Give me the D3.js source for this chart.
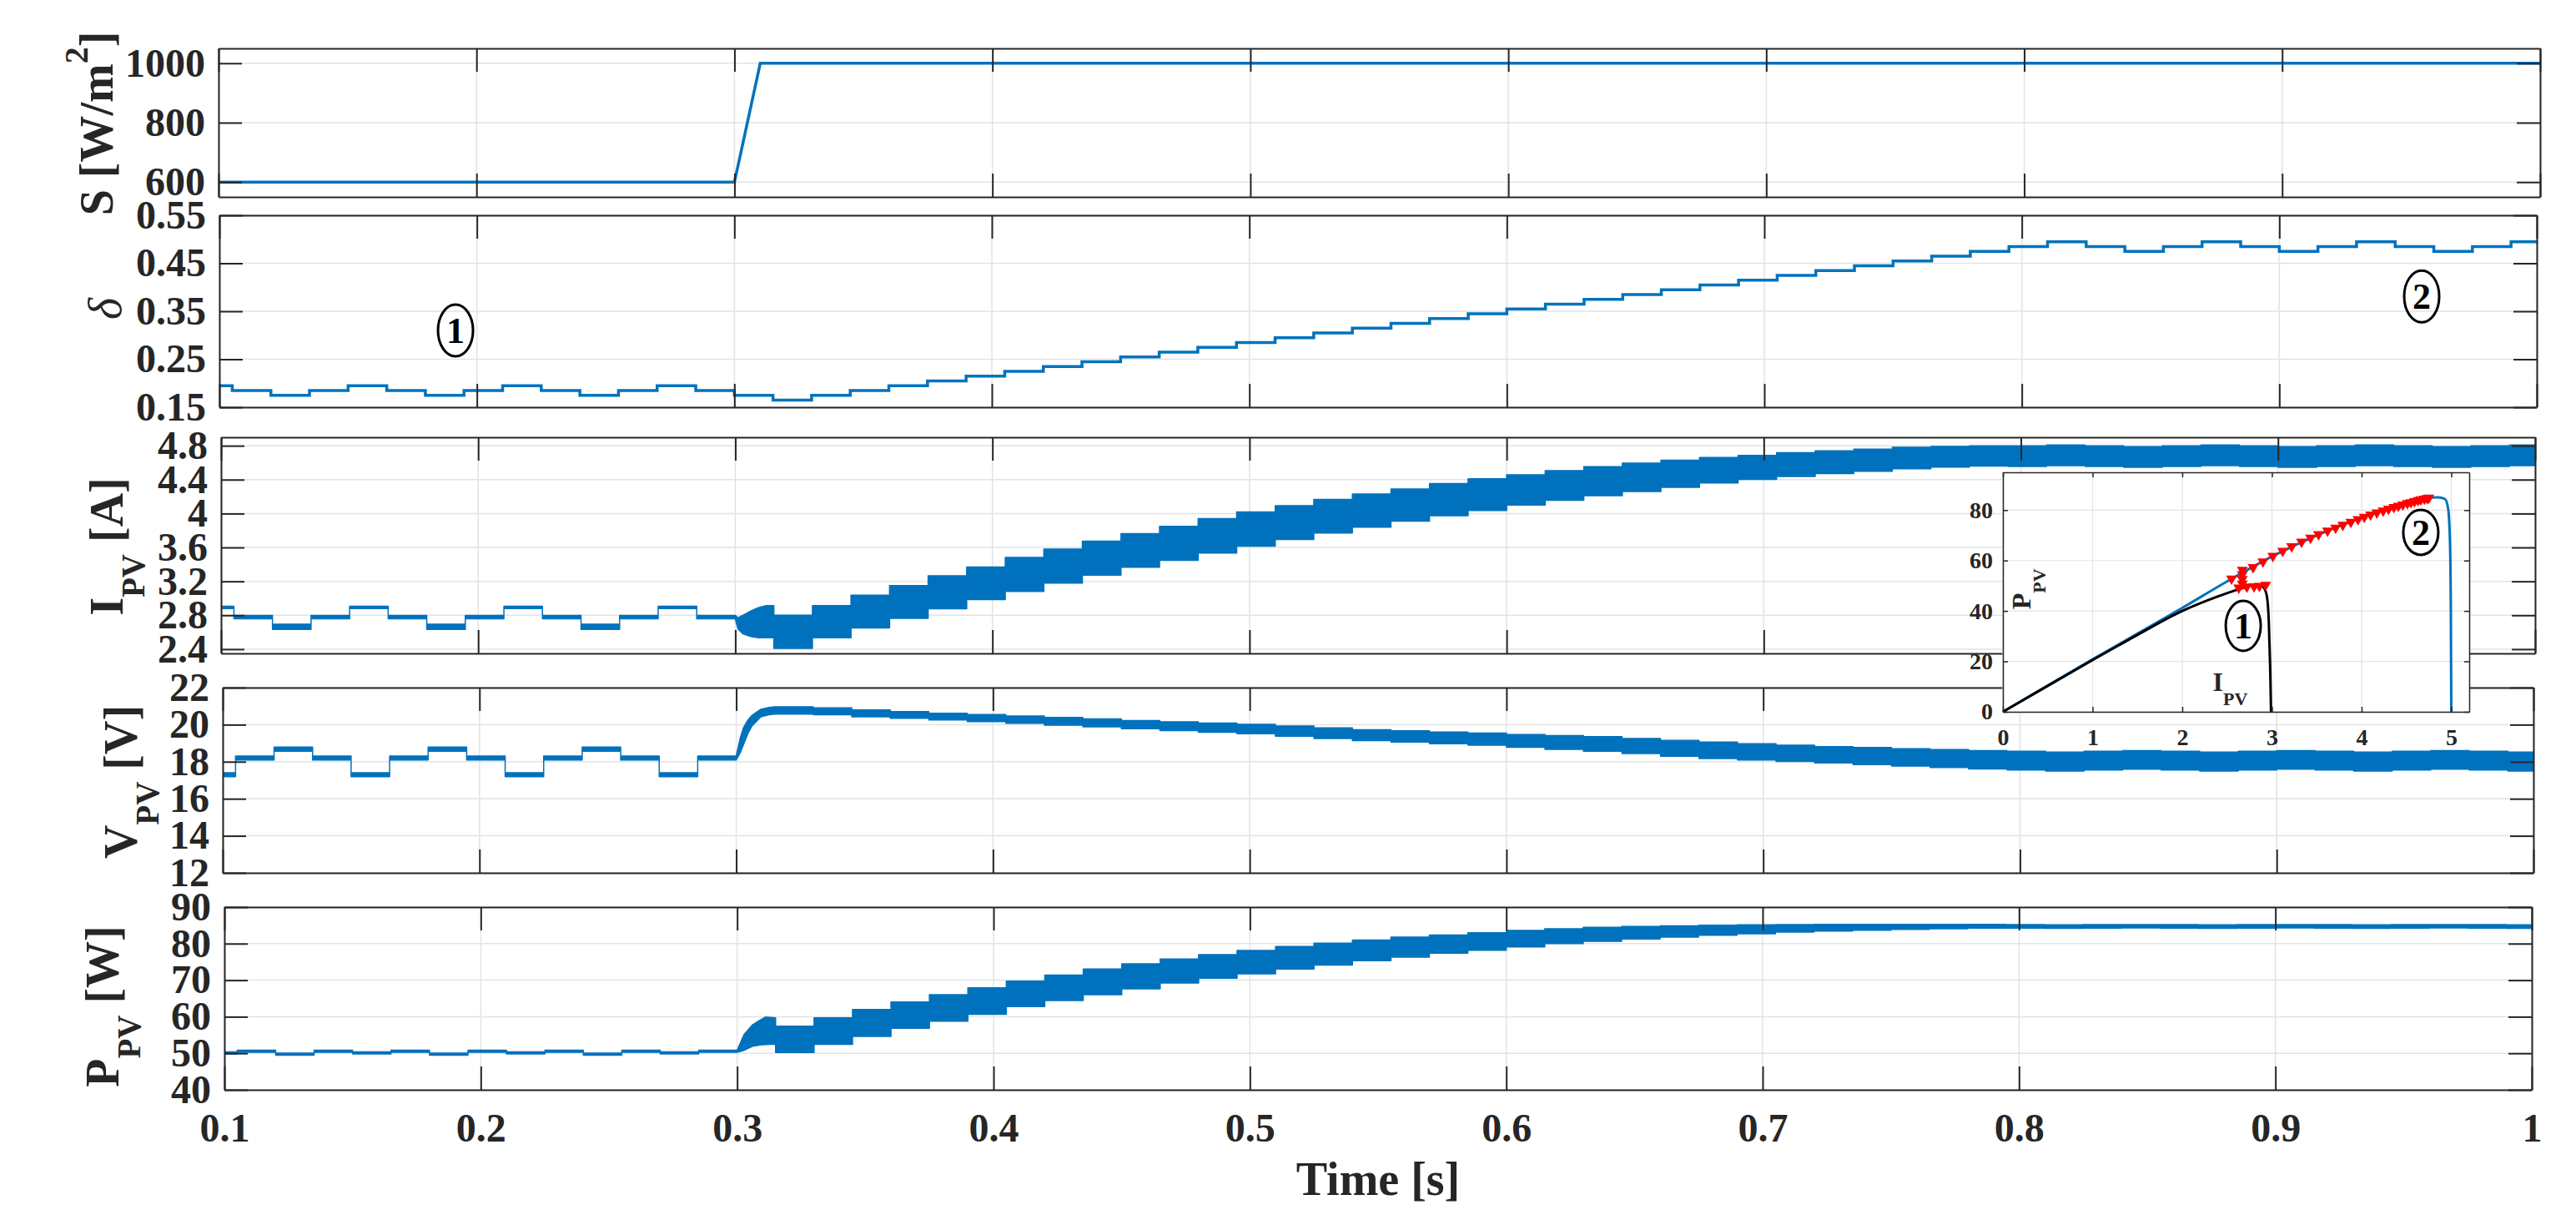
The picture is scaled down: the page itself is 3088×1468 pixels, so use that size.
<!DOCTYPE html>
<html>
<head>
<meta charset="utf-8">
<script src="https://cdn.jsdelivr.net/npm/d3@7"></script>
<style>
  body { margin: 0; background: #fff; }
  svg text { font-family: 'Liberation Serif', 'Times New Roman', Times, serif; fill: #262626; }
</style>
</head>
<body>
<svg id="chart" width="3088" height="1468"></svg>
<script>
// ---------- data ----------

// time axis
var timeTicks = [0.1, 0.2, 0.3, 0.4, 0.5, 0.6, 0.7, 0.8, 0.9, 1];
var timeTickLabels = ['0.1', '0.2', '0.3', '0.4', '0.5', '0.6', '0.7', '0.8', '0.9', '1'];

// irradiance step
var sTime = [0.1, 0.3, 0.31, 1];
var sValue = [600, 600, 1000, 1000];
var sTicks = [600, 800, 1000];
var sTickLabels = ['600', '800', '1000'];

// MPPT update instants (first interval starts at 0.1, then every 15 ms)
var stepStart = [0.1].concat(d3.range(60).map(function (k) { return +(0.105 + k * 0.015).toFixed(3); }));
var tEnd = 1;

// duty cycle, one value per MPPT interval
var duty = [0.195, 0.185, 0.175, 0.185, 0.195, 0.185, 0.175, 0.185, 0.195, 0.185, 0.175, 0.185, 0.195, 0.185, 0.175, 0.165,
  0.175, 0.185, 0.195, 0.205, 0.215, 0.225, 0.235, 0.245, 0.255, 0.265, 0.275, 0.285, 0.295, 0.305, 0.315, 0.325,
  0.335, 0.345, 0.355, 0.365, 0.375, 0.385, 0.395, 0.405, 0.415, 0.425, 0.435, 0.445, 0.455, 0.465, 0.475,
  0.485, 0.495, 0.485, 0.475, 0.485, 0.495, 0.485, 0.475, 0.485, 0.495, 0.485, 0.475, 0.485, 0.495];
var dutyTicks = [0.15, 0.25, 0.35, 0.45, 0.55];
var dutyTickLabels = ['0.15', '0.25', '0.35', '0.45', '0.55'];

// PV current ripple band (min / max per interval), null = transient listed below
var iLow = [2.879, 2.758, 2.633, 2.758, 2.879, 2.758, 2.633, 2.758, 2.879, 2.758, 2.633, 2.758, 2.879, 2.758, null,
  2.41, 2.535, 2.65, 2.763, 2.876, 2.984, 3.082, 3.18, 3.272, 3.367, 3.448, 3.535, 3.616, 3.693, 3.77, 3.84,
  3.911, 3.974, 4.037, 4.1, 4.156, 4.212, 4.261, 4.31, 4.36, 4.402, 4.437, 4.472, 4.5, 4.529, 4.549, 4.56,
  4.555, 4.565, 4.555, 4.545, 4.555, 4.565, 4.555, 4.545, 4.555, 4.565, 4.555, 4.545, 4.555, 4.565];
var iHigh = [2.907, 2.799, 2.694, 2.799, 2.907, 2.799, 2.694, 2.799, 2.907, 2.799, 2.694, 2.799, 2.907, 2.799, null,
  2.80, 2.914, 3.037, 3.149, 3.265, 3.37, 3.482, 3.58, 3.675, 3.763, 3.85, 3.939, 4.02, 4.093, 4.167, 4.23,
  4.29, 4.353, 4.409, 4.458, 4.507, 4.553, 4.595, 4.63, 4.661, 4.686, 4.718, 4.739, 4.76, 4.781, 4.792, 4.80,
  4.80, 4.81, 4.80, 4.79, 4.80, 4.81, 4.80, 4.79, 4.80, 4.81, 4.80, 4.79, 4.80, 4.81];
var iJumpTime = [0.3, 0.301, 0.303, 0.306, 0.309, 0.312, 0.315];
var iJumpLow = [2.758, 2.64, 2.58, 2.55, 2.535, 2.535, 2.535];
var iJumpHigh = [2.799, 2.77, 2.80, 2.85, 2.89, 2.914, 2.914];
var iTicks = [2.4, 2.8, 3.2, 3.6, 4, 4.4, 4.8];
var iTickLabels = ['2.4', '2.8', '3.2', '3.6', '4', '4.4', '4.8'];

// PV voltage ripple band
var vLow = [17.19, 18.09, 18.57, 18.09, 17.19, 18.09, 18.57, 18.09, 17.19, 18.09, 18.57, 18.09, 17.19, 18.09, null,
  20.57, 20.54, 20.42, 20.34, 20.25, 20.17, 20.07, 19.97, 19.88, 19.78, 19.68, 19.59, 19.51, 19.38, 19.25, 19.14,
  19.06, 18.97, 18.89, 18.78, 18.67, 18.57, 18.44, 18.30, 18.17, 18.09, 18.01, 17.93, 17.85, 17.77, 17.69, 17.61,
  17.55, 17.50, 17.55, 17.60, 17.55, 17.50, 17.55, 17.60, 17.55, 17.50, 17.55, 17.60, 17.55, 17.50];
var vHigh = [17.41, 18.31, 18.79, 18.31, 17.41, 18.31, 18.79, 18.31, 17.41, 18.31, 18.79, 18.31, 17.41, 18.31, null,
  20.96, 20.91, 20.80, 20.70, 20.62, 20.55, 20.47, 20.39, 20.31, 20.22, 20.15, 20.09, 20.02, 19.93, 19.83, 19.73,
  19.67, 19.60, 19.54, 19.47, 19.41, 19.35, 19.25, 19.15, 19.06, 18.97, 18.89, 18.81, 18.77, 18.70, 18.65, 18.60,
  18.56, 18.52, 18.56, 18.60, 18.56, 18.52, 18.56, 18.60, 18.56, 18.52, 18.56, 18.60, 18.56, 18.52];
var vJumpTime = [0.3, 0.3016, 0.3029, 0.3046, 0.3062, 0.3096, 0.3128, 0.315];
var vJumpLow = [18.09, 18.5, 18.95, 19.54, 19.94, 20.42, 20.54, 20.57];
var vJumpHigh = [18.31, 19.30, 19.86, 20.26, 20.51, 20.83, 20.93, 20.96];
var vTicks = [12, 14, 16, 18, 20, 22];
var vTickLabels = ['12', '14', '16', '18', '20', '22'];

// PV power ripple band
var pLow = [49.83, 50.25, 49.48, 50.25, 49.83, 50.25, 49.48, 50.25, 49.83, 50.25, 49.48, 50.25, 49.83, 50.25, null,
  50.19, 52.47, 54.60, 56.81, 58.79, 60.69, 62.75, 64.42, 66.02, 67.62, 69.22, 70.51, 71.73, 73.02, 74.16, 75.31,
  76.30, 77.36, 78.20, 79.11, 80.02, 80.63, 81.24, 81.78, 82.31, 82.69, 83.14, 83.45, 83.68, 83.90, 84.06, 84.21,
  84.25, 84.2, 84.25, 84.3, 84.25, 84.2, 84.25, 84.3, 84.25, 84.2, 84.25, 84.3, 84.25, 84.2];
var pHigh = [50.40, 50.82, 50.06, 50.82, 50.40, 50.82, 50.06, 50.82, 50.40, 50.82, 50.06, 50.82, 50.40, 50.82, null,
  57.42, 59.70, 61.99, 64.04, 66.02, 67.92, 69.75, 71.42, 73.02, 74.47, 75.76, 76.98, 78.12, 79.19, 80.10, 81.01,
  81.78, 82.38, 82.99, 83.60, 84.06, 84.44, 84.67, 84.89, 85.05, 85.12, 85.20, 85.25, 85.25, 85.25, 85.25, 85.25,
  85.2, 85.15, 85.2, 85.2, 85.2, 85.15, 85.2, 85.2, 85.2, 85.15, 85.2, 85.2, 85.2, 85.15];
var pJumpTime = [0.3, 0.3027, 0.306, 0.3095, 0.311, 0.315];
var pJumpLow = [50.25, 50.8, 51.9, 52.3, 52.4, 52.5];
var pJumpHigh = [50.82, 55.1, 57.8, 59.3, 59.9, 59.7];
var pTicks = [40, 50, 60, 70, 80, 90];
var pTickLabels = ['40', '50', '60', '70', '80', '90'];

// inset: P-I curves and MPPT operating points
var pv600Current = [0, 0.5, 1, 1.5, 2, 2.4, 2.6, 2.75, 2.83, 2.9, 2.94, 2.965, 2.98, 2.99];
var pv600Power = [0, 10.3, 20.5, 30.5, 40.0, 45.8, 48.3, 50.0, 50.6, 49.6, 46.5, 36, 18, 0];
var pv1000Current = [0, 0.5, 1, 1.5, 2, 2.5, 3, 3.5, 4, 4.4, 4.7, 4.85, 4.93, 4.965, 4.985, 4.995, 5.0];
var pv1000Power = [0, 10.4, 20.8, 31.0, 41.2, 51.7, 61.6, 70.0, 77.0, 82.0, 84.8, 85.1, 84.4, 80.5, 68, 40, 0];
var mppCurrent = [2.67, 2.67, 2.67, 2.67, 2.63, 2.72, 2.80, 2.86, 2.93,
  2.55, 2.79, 2.90, 3.01, 3.12, 3.22, 3.33, 3.43, 3.52, 3.62, 3.71, 3.79, 3.88, 3.96, 4.03, 4.10,
  4.17, 4.24, 4.30, 4.36, 4.41, 4.46, 4.51, 4.55, 4.59, 4.63, 4.66, 4.70, 4.73, 4.75];
var mppPower = [56.3, 54.5, 52.6, 50.8, 49.2, 49.6, 49.7, 49.9, 50.3,
  52.8, 57.3, 59.6, 61.8, 63.8, 65.6, 67.4, 69.0, 70.4, 71.8, 73.0, 74.1, 75.3, 76.4, 77.3, 78.2,
  79.0, 79.8, 80.5, 81.2, 81.7, 82.2, 82.7, 83.1, 83.5, 83.9, 84.2, 84.5, 84.7, 84.9];
var insetXTicks = [0, 1, 2, 3, 4, 5];
var insetYTicks = [0, 20, 40, 60, 80];

// circled operating-point markers
var dutyMarkTime = [0.1917, 0.9553];
var dutyMarkValue = [0.310, 0.381];
var dutyMarkText = ['1', '2'];
var insetMarkCurrent = [2.68, 4.66];
var insetMarkPower = [34.1, 71.2];
var insetMarkText = ['1', '2'];

// ---------- drawing ----------

var svg = d3.select('#chart');
var blue = '#0072bd';
var axisColor = '#262626';
var gridColor = '#e3e3e3';
var tickLen = 28;

var defs = svg.append('defs');

// build a step-wise ripple band from per-interval min/max values
function bandPoints(low, high, jt, jl, jh) {
  var pts = [];
  stepStart.forEach(function (t0, i) {
    var t1 = i + 1 < stepStart.length ? stepStart[i + 1] : tEnd;
    if (low[i] === null) {
      jt.forEach(function (t, k) { pts.push({ t: t, lo: jl[k], hi: jh[k] }); });
    } else {
      pts.push({ t: t0, lo: low[i], hi: high[i] });
      pts.push({ t: t1, lo: low[i], hi: high[i] });
    }
  });
  return pts;
}

function makePanel(id, box, yDomain, yTicks) {
  var x = d3.scaleLinear().domain([0.1, 1]).range([box.left, box.right]);
  var y = d3.scaleLinear().domain(yDomain).range([box.bottom, box.top]);
  var g = svg.append('g').attr('class', 'panel-' + id);

  g.append('g').selectAll('line')
    .data(timeTicks).enter().append('line')
    .attr('x1', d => x(d)).attr('x2', d => x(d))
    .attr('y1', box.top).attr('y2', box.bottom)
    .attr('stroke', gridColor).attr('stroke-width', 1.5);
  g.append('g').selectAll('line')
    .data(yTicks).enter().append('line')
    .attr('x1', box.left).attr('x2', box.right)
    .attr('y1', d => y(d)).attr('y2', d => y(d))
    .attr('stroke', gridColor).attr('stroke-width', 1.5);

  defs.append('clipPath').attr('id', 'clip-' + id)
    .append('rect')
    .attr('x', box.left).attr('y', box.top)
    .attr('width', box.right - box.left).attr('height', box.bottom - box.top);

  var plot = g.append('g').attr('clip-path', 'url(#clip-' + id + ')');
  return { g: g, plot: plot, x: x, y: y, box: box };
}

function styleAxis(sel, fontSize) {
  sel.attr('color', axisColor).attr('font-family', null).attr('font-size', null);
  sel.selectAll('line').attr('stroke-width', 2);
  sel.select('.domain').attr('stroke-width', 2);
  sel.selectAll('text')
    .style('font-size', fontSize + 'px')
    .style('font-weight', 'bold');
}

function finishPanel(p, yTicks, yTickLabels, showTime) {
  var b = p.box;
  var left = d3.axisLeft(p.y).tickValues(yTicks)
    .tickFormat((d, i) => yTickLabels[i])
    .tickSizeInner(-tickLen).tickSizeOuter(0).tickPadding(16);
  var right = d3.axisRight(p.y).tickValues(yTicks).tickFormat('')
    .tickSizeInner(-tickLen).tickSizeOuter(0);
  var top = d3.axisTop(p.x).tickValues(timeTicks).tickFormat('')
    .tickSizeInner(-tickLen).tickSizeOuter(0);
  var bottom = d3.axisBottom(p.x).tickValues(timeTicks)
    .tickFormat((d, i) => showTime ? timeTickLabels[i] : '')
    .tickSizeInner(-tickLen).tickSizeOuter(0).tickPadding(28);

  styleAxis(p.g.append('g').attr('transform', `translate(${b.left},0)`).call(left), 48);
  styleAxis(p.g.append('g').attr('transform', `translate(${b.right},0)`).call(right), 48);
  styleAxis(p.g.append('g').attr('transform', `translate(0,${b.top})`).call(top), 48);
  styleAxis(p.g.append('g').attr('transform', `translate(0,${b.bottom})`).call(bottom), 48);
}

function drawBand(p, pts) {
  var area = d3.area()
    .x(d => p.x(d.t))
    .y0(d => p.y(d.lo))
    .y1(d => p.y(d.hi));
  p.plot.append('path')
    .datum(pts)
    .attr('d', area)
    .attr('fill', blue)
    .attr('stroke', blue)
    .attr('stroke-width', 1.5)
    .attr('stroke-linejoin', 'round');
}

// rotated axis title with optional sub/superscript
function yTitle(x, y, parts, italic) {
  var t = svg.append('text')
    .attr('transform', `translate(${x},${y}) rotate(-90)`)
    .attr('text-anchor', 'middle')
    .style('font-size', '56px')
    .style('font-weight', italic ? 'normal' : 'bold')
    .style('font-style', italic ? 'italic' : 'normal');
  parts.forEach(function (pt) {
    t.append('tspan')
      .attr('dy', pt.dy || 0)
      .style('font-size', (pt.size || 56) + 'px')
      .text(pt.text);
  });
  return t;
}

// --- panel 1: irradiance
var pS = makePanel('s', { left: 262, right: 3045, top: 58, bottom: 236 }, [550, 1050], sTicks);
pS.plot.append('path')
  .datum(sTime.map((t, i) => ({ t: t, v: sValue[i] })))
  .attr('d', d3.line().x(d => pS.x(d.t)).y(d => pS.y(d.v)))
  .attr('fill', 'none').attr('stroke', blue).attr('stroke-width', 3.5);
finishPanel(pS, sTicks, sTickLabels, false);

// --- panel 2: duty cycle
var pD = makePanel('d', { left: 263, right: 3041, top: 258, bottom: 488 }, [0.15, 0.55], dutyTicks);
var dutyPts = stepStart.map((t, i) => ({ t: t, v: duty[i] }));
dutyPts.push({ t: tEnd, v: duty[duty.length - 1] });
pD.plot.append('path')
  .datum(dutyPts)
  .attr('d', d3.line().curve(d3.curveStepAfter).x(d => pD.x(d.t)).y(d => pD.y(d.v)))
  .attr('fill', 'none').attr('stroke', blue).attr('stroke-width', 3.5);
finishPanel(pD, dutyTicks, dutyTickLabels, false);

// --- panel 3: current
var pI = makePanel('i', { left: 265, right: 3039, top: 524, bottom: 783 }, [2.35, 4.9], iTicks);
drawBand(pI, bandPoints(iLow, iHigh, iJumpTime, iJumpLow, iJumpHigh));
finishPanel(pI, iTicks, iTickLabels, false);

// --- panel 4: voltage
var pV = makePanel('v', { left: 267, right: 3037, top: 824, bottom: 1046 }, [12, 22], vTicks);
drawBand(pV, bandPoints(vLow, vHigh, vJumpTime, vJumpLow, vJumpHigh));
finishPanel(pV, vTicks, vTickLabels, false);

// --- panel 5: power
var pP = makePanel('p', { left: 269, right: 3035, top: 1087, bottom: 1306 }, [40, 90], pTicks);
drawBand(pP, bandPoints(pLow, pHigh, pJumpTime, pJumpLow, pJumpHigh));
finishPanel(pP, pTicks, pTickLabels, true);

// axis titles
yTitle(135, 148, [{ text: 'S [W/m' }, { text: '2', size: 40, dy: -30 }, { text: ']', dy: 30 }]);
yTitle(145, 370, [{ text: 'δ' }], true);
yTitle(147, 655, [{ text: 'I' }, { text: 'PV', size: 39, dy: 26 }, { text: ' [A]', dy: -26 }]);
yTitle(164, 937, [{ text: 'V' }, { text: 'PV', size: 39, dy: 26 }, { text: ' [V]', dy: -26 }]);
yTitle(142, 1206, [{ text: 'P' }, { text: 'PV', size: 39, dy: 26 }, { text: ' [W]', dy: -26 }]);

svg.append('text')
  .attr('x', (pP.box.left + pP.box.right) / 2)
  .attr('y', 1432)
  .attr('text-anchor', 'middle')
  .style('font-size', '56px')
  .style('font-weight', 'bold')
  .text('Time [s]');

// circled markers in duty panel
function circled(cx, cy, ry, label) {
  svg.append('ellipse')
    .attr('cx', cx).attr('cy', cy).attr('rx', 21).attr('ry', ry)
    .attr('fill', 'none').attr('stroke', '#000').attr('stroke-width', 3);
  svg.append('text')
    .attr('x', cx).attr('y', cy + 15)
    .attr('text-anchor', 'middle')
    .style('font-size', '44px').style('font-weight', 'bold').style('fill', '#000')
    .text(label);
}
dutyMarkTime.forEach(function (t, i) {
  circled(pD.x(t), pD.y(dutyMarkValue[i]), 31, dutyMarkText[i]);
});

// --- inset P-I plot
var inBox = { left: 2401, right: 2960, top: 566, bottom: 853 };
var xi = d3.scaleLinear().domain([0, 5.2]).range([inBox.left, inBox.right]);
var yi = d3.scaleLinear().domain([0, 95]).range([inBox.bottom, inBox.top]);
var inset = svg.append('g').attr('class', 'inset');

inset.append('rect')
  .attr('x', inBox.left).attr('y', inBox.top)
  .attr('width', inBox.right - inBox.left).attr('height', inBox.bottom - inBox.top)
  .attr('fill', '#fff');
inset.append('g').selectAll('line')
  .data(insetXTicks).enter().append('line')
  .attr('x1', d => xi(d)).attr('x2', d => xi(d))
  .attr('y1', inBox.top).attr('y2', inBox.bottom)
  .attr('stroke', gridColor).attr('stroke-width', 1.2);
inset.append('g').selectAll('line')
  .data(insetYTicks).enter().append('line')
  .attr('x1', inBox.left).attr('x2', inBox.right)
  .attr('y1', d => yi(d)).attr('y2', d => yi(d))
  .attr('stroke', gridColor).attr('stroke-width', 1.2);

var pvLine = d3.line().curve(d3.curveMonotoneX).x(d => xi(d.i)).y(d => yi(d.p));
inset.append('path')
  .datum(pv1000Current.map((c, k) => ({ i: c, p: pv1000Power[k] })))
  .attr('d', pvLine)
  .attr('fill', 'none').attr('stroke', blue).attr('stroke-width', 3);
inset.append('path')
  .datum(pv600Current.map((c, k) => ({ i: c, p: pv600Power[k] })))
  .attr('d', pvLine)
  .attr('fill', 'none').attr('stroke', '#000').attr('stroke-width', 3);

inset.append('g').selectAll('path')
  .data(mppCurrent.map((c, k) => ({ i: c, p: mppPower[k] })))
  .enter().append('path')
  .attr('d', d3.symbol().type(d3.symbolTriangle).size(48))
  .attr('transform', d => `translate(${xi(d.i)},${yi(d.p)}) rotate(180)`)
  .attr('fill', '#ff0000').attr('stroke', '#ff0000').attr('stroke-width', 1.5);

var inLeft = d3.axisLeft(yi).tickValues(insetYTicks).tickSizeInner(-6).tickSizeOuter(0).tickPadding(12);
var inRight = d3.axisRight(yi).tickValues(insetYTicks).tickFormat('').tickSizeInner(-6).tickSizeOuter(0);
var inTop = d3.axisTop(xi).tickValues(insetXTicks).tickFormat('').tickSizeInner(-6).tickSizeOuter(0);
var inBottom = d3.axisBottom(xi).tickValues(insetXTicks).tickFormat(d3.format('d'))
  .tickSizeInner(-6).tickSizeOuter(0).tickPadding(20);
styleAxis(inset.append('g').attr('transform', `translate(${inBox.left},0)`).call(inLeft), 28);
styleAxis(inset.append('g').attr('transform', `translate(${inBox.right},0)`).call(inRight), 28);
styleAxis(inset.append('g').attr('transform', `translate(0,${inBox.top})`).call(inTop), 28);
styleAxis(inset.append('g').attr('transform', `translate(0,${inBox.bottom})`).call(inBottom), 28);
inset.selectAll('.domain').attr('stroke-width', 1.5);
inset.selectAll('.tick line').attr('stroke-width', 1.5);

// inset titles
var pvTitle = inset.append('text')
  .attr('transform', `translate(${xi(0.31)},${yi(48.7)}) rotate(-90)`)
  .attr('text-anchor', 'middle')
  .style('font-size', '32px').style('font-weight', 'bold');
pvTitle.append('tspan').text('P');
pvTitle.append('tspan').attr('dy', 18).style('font-size', '22px').text('PV');

var ivTitle = inset.append('text')
  .attr('x', xi(2.34)).attr('y', yi(8.3))
  .style('font-size', '32px').style('font-weight', 'bold');
ivTitle.append('tspan').text('I');
ivTitle.append('tspan').attr('dy', 17).style('font-size', '22px').text('PV');

insetMarkCurrent.forEach(function (c, k) {
  circled(xi(c), yi(insetMarkPower[k]), k === 0 ? 30 : 27, insetMarkText[k]);
});
</script>
</body>
</html>
